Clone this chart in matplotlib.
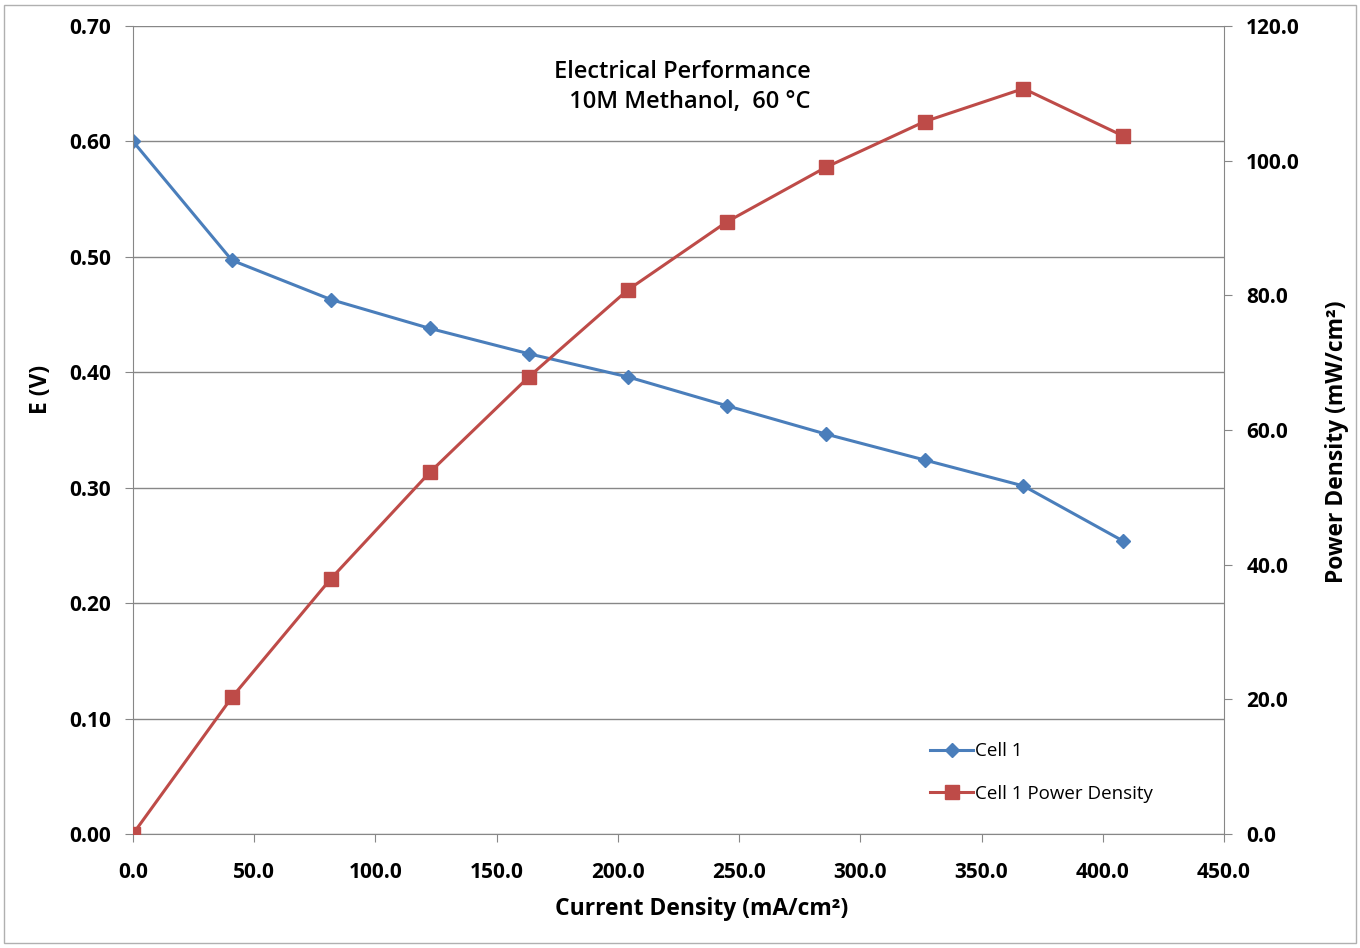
import matplotlib.pyplot as plt
from matplotlib.ticker import FormatStrFormatter

plt.rcParams['font.family'] = ['Open Sans', 'DejaVu Sans']

# current density (mA/cm2)
current = [0.0, 40.8, 81.6, 122.4, 163.3, 204.1, 244.9, 285.7, 326.5, 367.3, 408.2]
# cell voltage (V)
voltage = [0.600, 0.497, 0.463, 0.438, 0.416, 0.396, 0.371, 0.3465, 0.324, 0.3015, 0.254]
# power density (mW/cm2)
power = [0.0, 20.3, 37.9, 53.7, 67.9, 80.8, 90.9, 99.0, 105.8, 110.7, 103.7]

blue = '#4a7ebb'
red = '#be4b48'

fig = plt.figure(figsize=(13.6, 9.48), dpi=100)
ax = fig.add_axes([0.0978, 0.1203, 0.9 - 0.0978, 0.9726 - 0.1203])
ax2 = ax.twinx()

l1, = ax.plot(current, voltage, color=blue, lw=2.2, marker='D', markersize=7.5, label='Cell 1')
l2, = ax2.plot(current, power, color=red, lw=2.2, marker='s', markersize=10, label='Cell 1 Power Density')

ax.set_xlim(0, 450)
ax.set_ylim(0, 0.70)
ax2.set_ylim(0, 120)
ax.set_xticks(range(0, 451, 50))
ax.set_yticks([i / 10 for i in range(8)])
ax2.set_yticks(range(0, 121, 20))
ax.xaxis.set_major_formatter(FormatStrFormatter('%.1f'))
ax.yaxis.set_major_formatter(FormatStrFormatter('%.2f'))
ax2.yaxis.set_major_formatter(FormatStrFormatter('%.1f'))

ax.grid(axis='y', color='#878787', lw=1)
ax.set_axisbelow(True)
for a in (ax, ax2):
    for s in a.spines.values():
        s.set_color('#878787')
    a.spines['top'].set_visible(False)
ax.spines['right'].set_visible(False)
ax2.spines['left'].set_visible(False)
ax2.spines['bottom'].set_visible(False)

ax.tick_params(axis='y', length=6, color='#878787', labelsize=15, pad=10)
ax.tick_params(axis='x', length=6, color='#878787', labelsize=15, pad=14)
ax2.tick_params(axis='y', length=6, color='#878787', labelsize=15, pad=10)
for lbl in ax.get_xticklabels() + ax.get_yticklabels() + ax2.get_yticklabels():
    lbl.set_fontweight('bold')

ax.set_xlabel('Current Density (mA/cm\u00b2)', fontsize=16.5, fontweight='bold')
ax.xaxis.set_label_coords(0.5215, -0.078)
ax.set_ylabel('E (V)', fontsize=16.5, fontweight='bold')
ax.yaxis.set_label_coords(-0.073, 0.55)
ax2.set_ylabel('Power Density (mW/cm\u00b2)', fontsize=16.5, fontweight='bold')
ax2.yaxis.set_label_coords(1.093, 0.485)

ax.text(0.621, 0.958, 'Electrical Performance\n  10M Methanol,  60 \u00b0C', transform=ax.transAxes,
        ha='right', va='top', fontsize=17, fontweight='semibold', linespacing=1.35)

leg = ax.legend(handles=[l1, l2], loc='lower left', bbox_to_anchor=(0.715, 0.018),
                frameon=False, fontsize=13.5, handlelength=2.3, handletextpad=0.1,
                labelspacing=1.3)

# outer border
fig.patches.append(plt.Rectangle((0.003, 0.005), 0.994, 0.99, transform=fig.transFigure,
                                 fill=False, edgecolor='#b0b0b0', lw=1))

plt.savefig('out.png', dpi=100)
